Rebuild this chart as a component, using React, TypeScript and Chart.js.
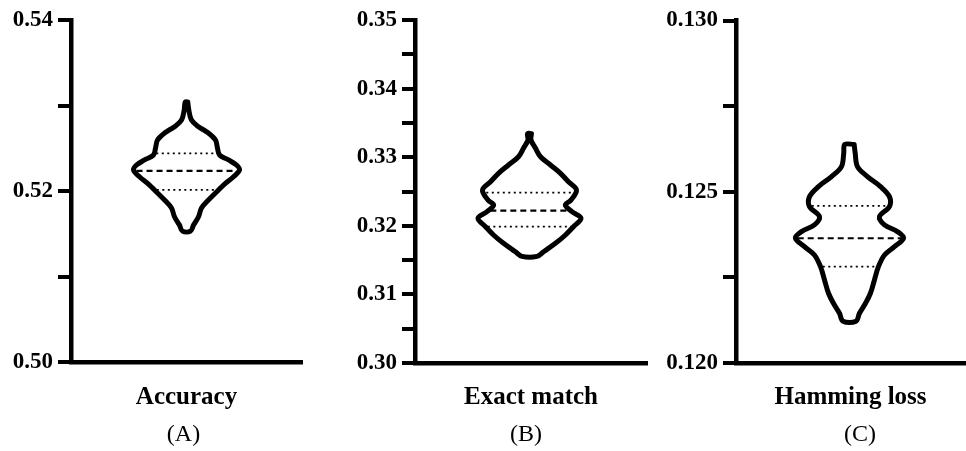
import React, { useEffect, useRef } from "react";
import { Chart, registerables } from "chart.js";

Chart.register(...registerables);

// ---------- DATA ----------
// Panel titles
const metricNames = ["Accuracy", "Exact match", "Hamming loss"];
const panelLetters = ["(A)", "(B)", "(C)"];

// Y-axis ranges and tick steps
const accuracyAxis = { min: 0.5, max: 0.54, step: 0.01, labelEvery: 0.02, digits: 2 };
const exactAxis = { min: 0.3, max: 0.35, step: 0.005, labelEvery: 0.01, digits: 2 };
const hammingAxis = { min: 0.12, max: 0.13, step: 0.0025, labelEvery: 0.005, digits: 3 };

// Violin outlines: levels (metric value, top -> bottom) and half-width density
const accuracyLevels = [0.5304, 0.52947, 0.5283, 0.52752, 0.52678, 0.52596, 0.52503, 0.52421, 0.52363, 0.52304, 0.52246, 0.52167, 0.5207, 0.52012, 0.51895, 0.51801, 0.51699, 0.51602, 0.5153];
const accuracyDensity = [0.011, 0.02, 0.043, 0.104, 0.19, 0.251, 0.268, 0.286, 0.364, 0.433, 0.459, 0.407, 0.32, 0.277, 0.19, 0.13, 0.104, 0.061, 0.035];
const accuracyMedian = 0.52236;
const accuracyQuartiles = [0.52441, 0.52012];

const exactLevels = [0.33343, 0.33251, 0.3313, 0.33007, 0.32886, 0.32765, 0.32643, 0.32522, 0.32376, 0.32303, 0.32206, 0.32109, 0.31987, 0.31866, 0.31745, 0.31622, 0.31555];
const exactDensity = [0.017, 0.013, 0.052, 0.095, 0.181, 0.267, 0.336, 0.405, 0.358, 0.309, 0.366, 0.444, 0.379, 0.31, 0.224, 0.121, 0.065];
const exactMedian = 0.3222;
const exactQuartiles = [0.32483, 0.31987];

const hammingLevels = [0.12638, 0.126126, 0.125735, 0.125443, 0.12515, 0.124858, 0.124566, 0.124274, 0.124032, 0.123836, 0.123643, 0.123398, 0.123155, 0.122813, 0.122425, 0.122036, 0.121744, 0.121452, 0.12122];
const hammingDensity = [0.041, 0.05, 0.07, 0.157, 0.271, 0.349, 0.349, 0.262, 0.306, 0.419, 0.472, 0.393, 0.306, 0.253, 0.218, 0.183, 0.14, 0.087, 0.057];
const hammingMedian = 0.123643;
const hammingQuartiles = [0.12459, 0.122813];

// ---------- STYLE / LAYOUT ----------
const FONT = "'Liberation Serif', 'Times New Roman', serif";
const BLACK = "#000000";

type Layout = {
  left: number;
  width: number;
  top: number;
  bottom: number;
  yWidth: number;
  padRight: number;
  xMin: number;
  xMax: number;
  letterDx: number;
  letterY: number;
};

const layouts: Layout[] = [
  { left: 0, width: 330, top: 20, bottom: 362, yWidth: 71, padRight: 28, xMin: -1, xMax: 1, letterDx: -3, letterY: 435 },
  { left: 330, width: 325, top: 20, bottom: 363, yWidth: 85, padRight: 8, xMin: -0.987, xMax: 1.013, letterDx: -5, letterY: 435 },
  { left: 655, width: 311, top: 20.5, bottom: 363, yWidth: 81, padRight: 1, xMin: -0.991, xMax: 1.009, letterDx: 9.5, letterY: 435 },
];

type Violin = {
  levels: number[];
  density: number[];
  median: number;
  quartiles: number[];
  axis: { min: number; max: number; step: number; labelEvery: number; digits: number };
};

const violins: Violin[] = [
  { levels: accuracyLevels, density: accuracyDensity, median: accuracyMedian, quartiles: accuracyQuartiles, axis: accuracyAxis },
  { levels: exactLevels, density: exactDensity, median: exactMedian, quartiles: exactQuartiles, axis: exactAxis },
  { levels: hammingLevels, density: hammingDensity, median: hammingMedian, quartiles: hammingQuartiles, axis: hammingAxis },
];

function widthAt(levels: number[], density: number[], v: number): number {
  for (let i = 0; i < levels.length - 1; i++) {
    const a = levels[i];
    const b = levels[i + 1];
    if ((v <= a && v >= b) || (v >= a && v <= b)) {
      const t = (v - a) / (b - a);
      return density[i] + t * (density[i + 1] - density[i]);
    }
  }
  return 0;
}

const panelLetterPlugin = {
  id: "panelLetter",
  afterDraw(chart: any, _args: any, opts: any) {
    const { ctx, chartArea } = chart;
    ctx.save();
    ctx.font = `normal 24px ${FONT}`;
    ctx.fillStyle = BLACK;
    ctx.textAlign = "center";
    ctx.textBaseline = "middle";
    ctx.fillText(opts.text, (chartArea.left + chartArea.right) / 2 + opts.dx, opts.y);
    ctx.restore();
  },
};

function ViolinPanel({ index }: { index: number }) {
  const ref = useRef<HTMLCanvasElement>(null);
  const lay = layouts[index];
  const vio = violins[index];

  useEffect(() => {
    const { levels, density, median, quartiles, axis } = vio;
    const outline = [
      ...levels.map((v, i) => ({ x: density[i], y: v })),
      ...levels
        .map((v, i) => ({ x: -density[i], y: v }))
        .reverse(),
      { x: density[0], y: levels[0] },
    ];
    const inset = 0.02;
    const hLine = (v: number) => {
      const w = Math.max(widthAt(levels, density, v) - inset, 0);
      return [
        { x: -w, y: v },
        { x: w, y: v },
      ];
    };

    const datasets: any[] = [
      {
        label: "violin",
        data: outline,
        borderColor: BLACK,
        borderWidth: 5,
        pointRadius: 0,
        tension: 0.35,
        fill: false,
        borderJoinStyle: "round",
        borderCapStyle: "round",
      },
      {
        label: "median",
        data: hLine(median),
        borderColor: BLACK,
        borderWidth: 2.2,
        borderDash: [6, 4],
        pointRadius: 0,
        tension: 0,
        fill: false,
      },
      ...quartiles.map((q, i) => ({
        label: "quartile" + i,
        data: hLine(q),
        borderColor: BLACK,
        borderWidth: 1.8,
        borderDash: [2, 3.5],
        pointRadius: 0,
        tension: 0,
        fill: false,
      })),
    ];

    const chart = new Chart(ref.current as HTMLCanvasElement, {
      type: "line",
      data: { datasets },
      plugins: [panelLetterPlugin as any],
      options: {
        responsive: false,
        animation: false,
        events: [],
        layout: {
          autoPadding: false,
          padding: { left: 0, right: lay.padRight, top: lay.top, bottom: 0 },
        },
        plugins: {
          legend: { display: false },
          tooltip: { enabled: false },
          title: { display: false },
          panelLetter: { text: panelLetters[index], dx: lay.letterDx, y: lay.letterY },
        } as any,
        scales: {
          x: {
            type: "linear",
            min: lay.xMin,
            max: lay.xMax,
            grid: { display: false },
            border: { display: true, color: BLACK, width: 4.5 },
            ticks: { display: false },
            title: {
              display: true,
              text: metricNames[index],
              color: BLACK,
              font: { family: FONT, size: 25, weight: "bold" },
              padding: { top: 0, bottom: 38 },
            },
            afterFit: (scale: any) => {
              scale.height = 451 - lay.bottom;
            },
          },
          y: {
            type: "linear",
            min: axis.min,
            max: axis.max,
            grid: {
              display: true,
              drawOnChartArea: false,
              drawTicks: true,
              tickLength: 13,
              color: BLACK,
              lineWidth: 4,
            },
            border: { display: true, color: BLACK, width: 4.5 },
            ticks: {
              stepSize: axis.step,
              autoSkip: false,
              padding: 5,
              color: BLACK,
              font: { family: FONT, size: 23, weight: "bold" },
              callback: (value: any) => {
                const v = Number(value);
                const r = v / axis.labelEvery;
                return Math.abs(r - Math.round(r)) < 1e-6 ? v.toFixed(axis.digits) : "";
              },
            },
            afterFit: (scale: any) => {
              scale.width = lay.yWidth;
            },
          },
        },
      } as any,
    });
    return () => chart.destroy();
  }, []);

  return (
    <canvas
      ref={ref}
      width={lay.width}
      height={451}
      style={{ position: "absolute", left: lay.left, top: 0, width: lay.width, height: 451 }}
    />
  );
}

export default function App() {
  return (
    <div
      style={{
        position: "fixed",
        left: 0,
        top: 0,
        width: 966,
        height: 451,
        background: "#ffffff",
        overflow: "hidden",
      }}
    >
      {[0, 1, 2].map((i) => (
        <ViolinPanel key={i} index={i} />
      ))}
    </div>
  );
}
